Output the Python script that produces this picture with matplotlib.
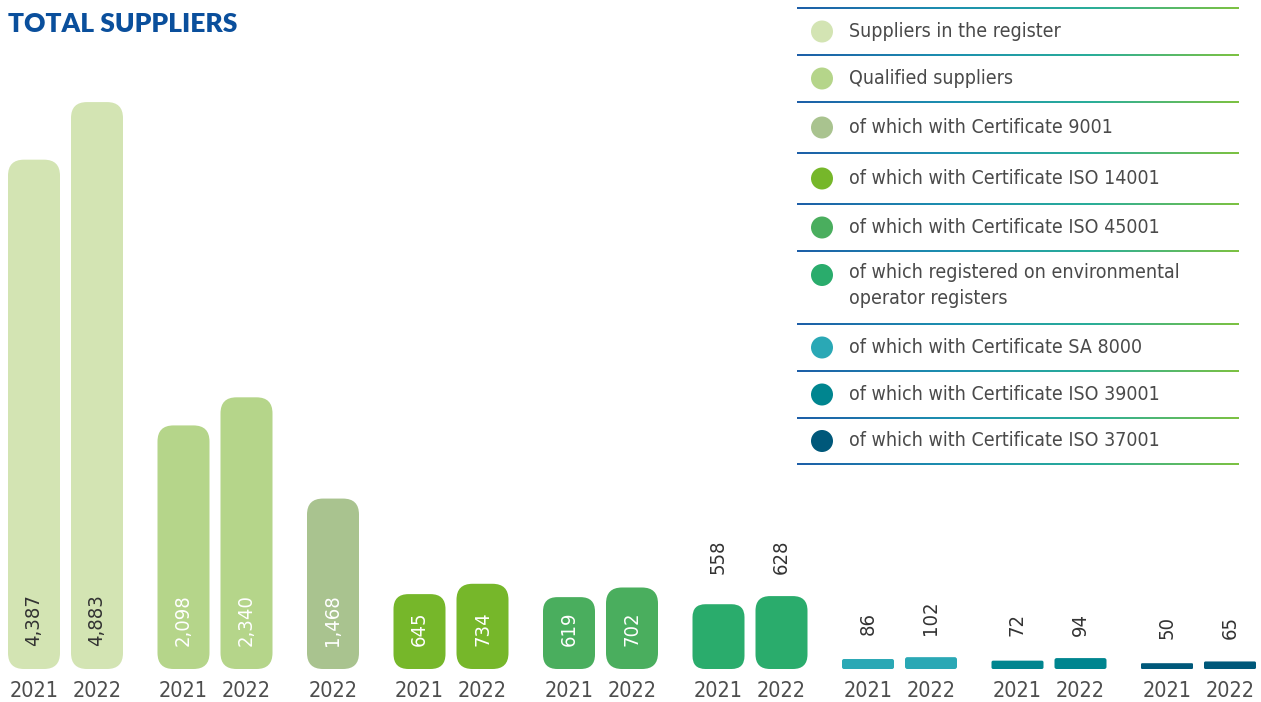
import numpy as np
import matplotlib
matplotlib.use("Agg")
import matplotlib.pyplot as plt
from matplotlib.patches import FancyBboxPatch, Circle
from matplotlib.colors import LinearSegmentedColormap

# ---- data -------------------------------------------------------------
categories = [
    "Suppliers in the register",
    "Qualified suppliers",
    "of which with Certificate 9001",
    "of which with Certificate ISO 14001",
    "of which with Certificate ISO 45001",
    "of which registered on environmental\noperator registers",
    "of which with Certificate SA 8000",
    "of which with Certificate ISO 39001",
    "of which with Certificate ISO 37001",
]
years = [
    ["2021", "2022"], ["2021", "2022"], ["2022"], ["2021", "2022"],
    ["2021", "2022"], ["2021", "2022"], ["2021", "2022"], ["2021", "2022"],
    ["2021", "2022"],
]
values = [
    [4387, 4883], [2098, 2340], [1468], [645, 734], [619, 702],
    [558, 628], [86, 102], [72, 94], [50, 65],
]
colors = [
    "#D3E4B3", "#B5D58A", "#A9C38F", "#76B72A", "#4AAE5E",
    "#2AAC6C", "#2AA8B5", "#00858F", "#00587A",
]
# label placement: inside bar (True) or above group (False), and label colour
label_inside = [True, True, True, True, True, False, False, False, False]
label_color = ["#333333", "#FFFFFF", "#FFFFFF", "#FFFFFF", "#FFFFFF",
               "#333333", "#333333", "#333333", "#333333"]

# ---- layout -----------------------------------------------------------
W, H, DPI = 1261, 702, 100
fig = plt.figure(figsize=(W / DPI, H / DPI), dpi=DPI)

base_px = 33          # distance of bar baseline from figure bottom (px)
px_per_unit = 0.1161  # vertical scale
ax = fig.add_axes([0, base_px / H, 1, (H - base_px) / H])
ax.set_xlim(0, W)
ymax = (H - base_px) / px_per_unit
ax.set_ylim(0, ymax)
ax.axis("off")

units_per_px = 1 / px_per_unit
bar_w = 52
pitch = 63
group_gap = 86.5
first_center = 34

cond = dict(family="DejaVu Sans", fontstretch="condensed")

x = first_center
for gi, (vals, yrs, col) in enumerate(zip(values, years, colors)):
    xs = []
    for bi, (v, yr) in enumerate(zip(vals, yrs)):
        if bi > 0:
            x += pitch
        xs.append(x)
        h_px = v * px_per_unit
        r = min(16.0, h_px * 0.2)
        patch = FancyBboxPatch(
            (x - bar_w / 2, 0), bar_w, v,
            boxstyle=f"round,pad=0,rounding_size={r}",
            mutation_aspect=units_per_px,
            facecolor=col, edgecolor="none",
        )
        ax.add_patch(patch)
        # year tick label
        ax.text(x, -22 * units_per_px, yr, ha="center", va="center",
                fontsize=15.5, color="#4D4D4D", **cond)
        if label_inside[gi]:
            ax.text(x, 23 * units_per_px, f"{v:,}", rotation=90,
                    ha="center", va="bottom", fontsize=14.5,
                    color=label_color[gi], **cond)
    if not label_inside[gi]:
        top = max(vals) + 22 * units_per_px
        for xx, v in zip(xs, vals):
            ax.text(xx, top, f"{v:,}", rotation=90, ha="center",
                    va="bottom", fontsize=14.5, color=label_color[gi], **cond)
    x += group_gap

# ---- title ------------------------------------------------------------
fig.text(8 / W, 1 - 24 / H, "TOTAL SUPPLIERS", ha="left", va="center",
         fontsize=19, fontweight="heavy", color="#0A4F9C", family="Lato")

# ---- legend -----------------------------------------------------------
lax = fig.add_axes([0, 0, 1, 1])
lax.set_xlim(0, W)
lax.set_ylim(H, 0)
lax.axis("off")

sep_y = [8, 55, 102, 153, 204, 251, 324, 371, 418, 464]
lx0, lx1 = 797, 1239
grad = LinearSegmentedColormap.from_list(
    "sep", ["#1E5FA8", "#1C8FB0", "#2AAE9A", "#7DC242"])
grad_img = np.linspace(0, 1, 256)[None, :]
for yy in sep_y:
    lax.imshow(grad_img, cmap=grad, aspect="auto",
               extent=(lx0, lx1, yy + 0.9, yy - 0.9), zorder=2)

for i, (cat, col) in enumerate(zip(categories, colors)):
    y_top, y_bot = sep_y[i], sep_y[i + 1]
    multiline = "\n" in cat
    yc = y_top + 24 if multiline else (y_top + y_bot) / 2
    lax.add_patch(Circle((822, yc), 11, facecolor=col, edgecolor="none"))
    lax.text(849, yc - 12 if multiline else yc, cat, ha="left",
             va="top" if multiline else "center",
             fontsize=14, color="#4A4A4A", linespacing=1.5, **cond)
lax.set_xlim(0, W)
lax.set_ylim(H, 0)

fig.savefig("out.png", dpi=DPI)
